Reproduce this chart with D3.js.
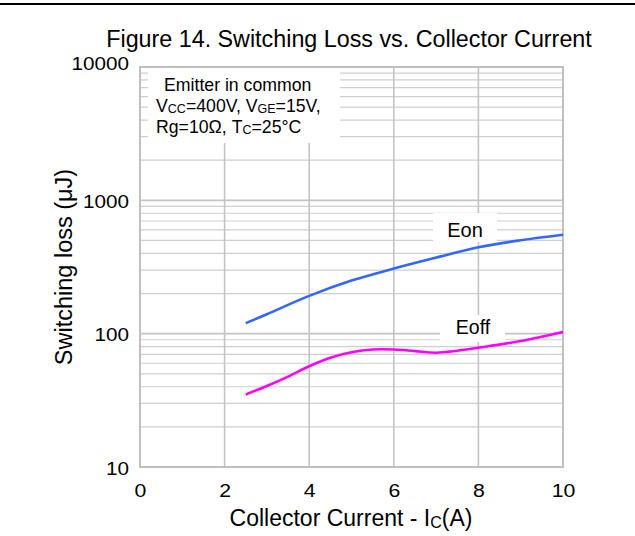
<!DOCTYPE html>
<html><head><meta charset="utf-8">
<script src="https://cdn.jsdelivr.net/npm/d3@7"></script>
<style>body{margin:0;background:#fff}svg{display:block;font-family:"Liberation Sans",Arial,sans-serif}</style>
</head><body><svg id="c" width="635" height="536"></svg>
<script>
const xTicks = [0, 2, 4, 6, 8, 10];
const yTicks = [10, 100, 1000, 10000];
const eonX = [2.5, 3, 4, 5, 6, 7, 8, 9, 10];
const eonY = [120, 140, 192, 250, 308, 372, 445, 502, 552];
const eoffX = [2.5, 3, 3.5, 4, 4.5, 5, 5.5, 6, 6.5, 7, 7.5, 8, 9, 10];
const eoffY = [35, 40.5, 47.6, 57, 66, 72.5, 76, 76, 74, 72, 74.5, 78.5, 88, 103];

const svg = d3.select("#c");
const FONT = "Liberation Sans, Arial, sans-serif";
const L = 140, R = 563, T = 67, B = 467;
const x = d3.scaleLinear().domain([0, 10]).range([L, R]);
const y = d3.scaleLog().domain([10, 10000]).range([B, T]);
const SX = 1.15;

svg.append("line").attr("x1",0).attr("x2",635).attr("y1",4).attr("y2",4).attr("stroke","#000").attr("stroke-width",2);

// grid
const minor = [];
for (let d = 10; d < 10000; d *= 10) for (let k = 2; k <= 9; k++) minor.push(d*k);
svg.append("g").selectAll("line").data(minor).join("line")
  .attr("x1",L).attr("x2",R).attr("y1",d=>y(d)).attr("y2",d=>y(d))
  .attr("stroke","#cfcfcf").attr("stroke-width",1.2);
svg.append("g").selectAll("line").data(yTicks).join("line")
  .attr("x1",L).attr("x2",R).attr("y1",d=>y(d)).attr("y2",d=>y(d))
  .attr("stroke","#c4c4c4").attr("stroke-width",1.6);
svg.append("g").selectAll("line").data(xTicks).join("line")
  .attr("x1",d=>x(d)).attr("x2",d=>x(d)).attr("y1",T).attr("y2",B)
  .attr("stroke","#c4c4c4").attr("stroke-width",1.6);
svg.append("rect").attr("x",L).attr("y",T).attr("width",R-L).attr("height",B-T)
  .attr("fill","none").attr("stroke","#c0c0c0").attr("stroke-width",2);

// tick labels (slightly widened like the reference)
const xa = svg.append("g").attr("transform",`translate(0,${B})`)
  .call(d3.axisBottom(x).tickValues(xTicks).tickSize(0).tickPadding(0).tickFormat(d3.format("d")));
xa.select(".domain").remove();
xa.selectAll("text").attr("font-size",18.5).attr("fill","#000").attr("font-family",FONT)
  .attr("y",30).attr("dy",null).attr("x",0).attr("transform",`scale(${SX},1)`);
const ya = svg.append("g").attr("transform",`translate(${L},0)`)
  .call(d3.axisLeft(y).tickValues(yTicks).tickSize(0).tickPadding(0).tickFormat(d3.format("d")));
ya.select(".domain").remove();
ya.selectAll("text").attr("font-size",18).attr("fill","#000").attr("font-family",FONT)
  .attr("x",-11/SX).attr("dy",null).attr("y",d=>d===10000?2:7).attr("transform",`scale(${SX},1)`);

// annotation box
svg.append("rect").attr("x",148).attr("y",68).attr("width",192).attr("height",75).attr("fill","#fff");
const ann = svg.append("g").attr("font-size",17.7).attr("fill","#000");
ann.append("text").attr("x",164).attr("y",91).text("Emitter in common");
const t2 = ann.append("text").attr("x",156).attr("y",112);
t2.append("tspan").text("V");
t2.append("tspan").attr("font-size",12.5).attr("dy",1).text("CC");
t2.append("tspan").attr("dy",-1).text("=400V, V");
t2.append("tspan").attr("font-size",12.5).attr("dy",1).text("GE");
t2.append("tspan").attr("dy",-1).text("=15V,");
const t3 = ann.append("text").attr("x",156).attr("y",133);
t3.append("tspan").text("Rg=10Ω, T");
t3.append("tspan").attr("font-size",12.5).attr("dy",1).text("C");
t3.append("tspan").attr("dy",-1).text("=25°C");

// curves
const line = d3.line().x(d=>x(d[0])).y(d=>y(d[1])).curve(d3.curveCatmullRom.alpha(0.5));
svg.append("path").datum(d3.zip(eonX,eonY)).attr("d",line).attr("fill","none").attr("stroke","#3366ff").attr("stroke-width",2.6);
svg.append("path").datum(d3.zip(eoffX,eoffY)).attr("d",line).attr("fill","none").attr("stroke","#ff00ff").attr("stroke-width",2.6);

// series labels
svg.append("rect").attr("x",433).attr("y",213).attr("width",64).attr("height",29).attr("fill","#fff");
svg.append("text").attr("x",465).attr("y",237).attr("font-size",20).attr("text-anchor","middle").text("Eon");
svg.append("rect").attr("x",440).attr("y",315).attr("width",65).attr("height",27).attr("fill","#fff");
svg.append("text").attr("x",473).attr("y",334).attr("font-size",19.5).attr("text-anchor","middle").text("Eoff");

// title
svg.append("text").attr("x",349).attr("y",47).attr("text-anchor","middle").attr("font-size",23.3).text("Figure 14. Switching Loss vs. Collector Current");

// axis titles
svg.append("text").attr("transform","translate(72,267) rotate(-90)").attr("text-anchor","middle").attr("font-size",23.5).text("Switching loss (μJ)");
const xt = svg.append("text").attr("x",351).attr("y",526).attr("text-anchor","middle").attr("font-size",23);
xt.append("tspan").text("Collector Current - I");
xt.append("tspan").attr("font-size",16).attr("dy",2).text("C");
xt.append("tspan").attr("dy",-2).text("(A)");
</script></body></html>
